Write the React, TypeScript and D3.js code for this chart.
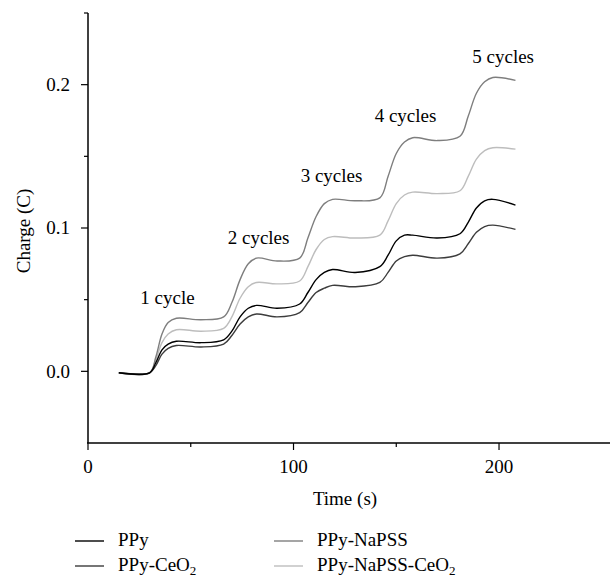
import React from 'react'
import { scaleLinear, line, curveCatmullRom } from 'd3'

// shared time samples (s)
const times = [15, 30, 33, 36, 39, 43, 55, 66, 70, 74, 78, 82, 92, 103, 107, 111, 115, 119, 130, 142, 146, 150, 154, 158, 170, 181, 185, 189, 193, 197, 208]

const ppy = [-0.001, -0.001, 0.006, 0.015, 0.019, 0.021, 0.020, 0.022, 0.028, 0.038, 0.044, 0.046, 0.044, 0.047, 0.055, 0.064, 0.069, 0.071, 0.069, 0.073, 0.081, 0.091, 0.095, 0.095, 0.093, 0.096, 0.104, 0.114, 0.119, 0.120, 0.116]
const ppyCeO2 = [-0.001, -0.001, 0.004, 0.012, 0.016, 0.018, 0.017, 0.019, 0.025, 0.033, 0.038, 0.040, 0.038, 0.041, 0.048, 0.055, 0.058, 0.060, 0.059, 0.062, 0.069, 0.077, 0.080, 0.081, 0.079, 0.082, 0.089, 0.097, 0.101, 0.102, 0.099]
const ppyNaPSS = [-0.001, -0.001, 0.010, 0.026, 0.034, 0.037, 0.036, 0.038, 0.048, 0.064, 0.075, 0.079, 0.077, 0.079, 0.093, 0.108, 0.117, 0.120, 0.119, 0.121, 0.136, 0.152, 0.160, 0.163, 0.161, 0.164, 0.178, 0.194, 0.202, 0.205, 0.203]
const ppyNaPSSCeO2 = [-0.001, -0.001, 0.008, 0.020, 0.026, 0.029, 0.028, 0.030, 0.038, 0.051, 0.059, 0.062, 0.061, 0.063, 0.073, 0.085, 0.092, 0.094, 0.093, 0.095, 0.105, 0.117, 0.123, 0.125, 0.124, 0.126, 0.136, 0.148, 0.154, 0.156, 0.155]

const cycleLabels = ['1 cycle', '2 cycles', '3 cycles', '4 cycles', '5 cycles']
const cycleLabelX = [38.7, 83, 118.5, 154.5, 202]
const cycleLabelY = [0.047, 0.089, 0.132, 0.174, 0.215]

const xMajor = [0, 100, 200]
const xMinor = [50, 150]
const yMajor = [0, 0.1, 0.2]
const yMinor = [0.05, 0.15, 0.25]

const series = [
  { name: 'PPy', sub: '', values: ppy, color: '#000000' },
  { name: 'PPy-CeO', sub: '2', values: ppyCeO2, color: '#3c3c3c' },
  { name: 'PPy-NaPSS', sub: '', values: ppyNaPSS, color: '#7e7e7e' },
  { name: 'PPy-NaPSS-CeO', sub: '2', values: ppyNaPSSCeO2, color: '#bdbdbd' },
]

const W = 610
const H = 577
const font = '"Liberation Serif", "Times New Roman", serif'

const App = () => {
  const x = scaleLinear().domain([0, 254]).range([88, 610])
  const y = scaleLinear().domain([-0.05, 0.25]).range([443, 13])

  const mkLine = line<[number, number]>()
    .x(d => x(d[0]))
    .y(d => y(d[1]))
    .curve(curveCatmullRom.alpha(0.5))

  // draw order: lightest at back
  const drawOrder = [3, 2, 1, 0]

  return (
    <svg width={W} height={H} style={{ position: 'absolute', left: 0, top: 0 }} fontFamily={font}>
      <rect width={W} height={H} fill="#fff" />

      {/* axes */}
      <line x1={x(0)} x2={x(0)} y1={y(0.25)} y2={y(-0.05)} stroke="#000" strokeWidth={1.5} />
      <line x1={x(0) - 1} x2={W} y1={y(-0.05)} y2={y(-0.05)} stroke="#000" strokeWidth={1.5} />

      {yMajor.map(v => (
        <g key={'ym' + v}>
          <line x1={x(0) - 7} x2={x(0)} y1={y(v)} y2={y(v)} stroke="#000" strokeWidth={1.2} />
          <text x={70} y={y(v)} dy="0.33em" textAnchor="end" fontSize={19}>{v.toFixed(1)}</text>
        </g>
      ))}
      {yMinor.map(v => (
        <line key={'yn' + v} x1={x(0) - 4} x2={x(0)} y1={y(v)} y2={y(v)} stroke="#000" strokeWidth={1.2} />
      ))}
      {xMajor.map(v => (
        <g key={'xm' + v}>
          <line x1={x(v)} x2={x(v)} y1={y(-0.05)} y2={y(-0.05) + 7} stroke="#000" strokeWidth={1.2} />
          <text x={x(v)} y={473} textAnchor="middle" fontSize={19}>{v}</text>
        </g>
      ))}
      {xMinor.map(v => (
        <line key={'xn' + v} x1={x(v)} x2={x(v)} y1={y(-0.05)} y2={y(-0.05) + 4} stroke="#000" strokeWidth={1.2} />
      ))}

      <text x={345} y={505} textAnchor="middle" fontSize={19}>Time (s)</text>
      <text transform="translate(30,231) rotate(-90)" textAnchor="middle" fontSize={19}>Charge (C)</text>

      {/* curves */}
      {drawOrder.map(i => {
        const s = series[i]
        const pts = times.map((t, j) => [t, s.values[j]] as [number, number])
        return <path key={s.name + s.sub} d={mkLine(pts) || ''} fill="none" stroke={s.color} strokeWidth={1.4} />
      })}

      {cycleLabels.map((c, i) => (
        <text key={c} x={x(cycleLabelX[i])} y={y(cycleLabelY[i])} textAnchor="middle" fontSize={19}>{c}</text>
      ))}

      {/* legend */}
      {series.map((s, i) => {
        const col = i < 2 ? 0 : 1
        const row = i % 2
        const lx = col === 0 ? 75 : 274
        const ly = row === 0 ? 541 : 566
        return (
          <g key={'lg' + i}>
            <line x1={lx} x2={lx + 29} y1={ly} y2={ly} stroke={s.color} strokeWidth={1.4} />
            <text x={lx + 43} y={ly + 5} fontSize={19}>
              {s.name}
              {s.sub && <tspan dy={4} fontSize={13}>{s.sub}</tspan>}
            </text>
          </g>
        )
      })}
    </svg>
  )
}

export default App
